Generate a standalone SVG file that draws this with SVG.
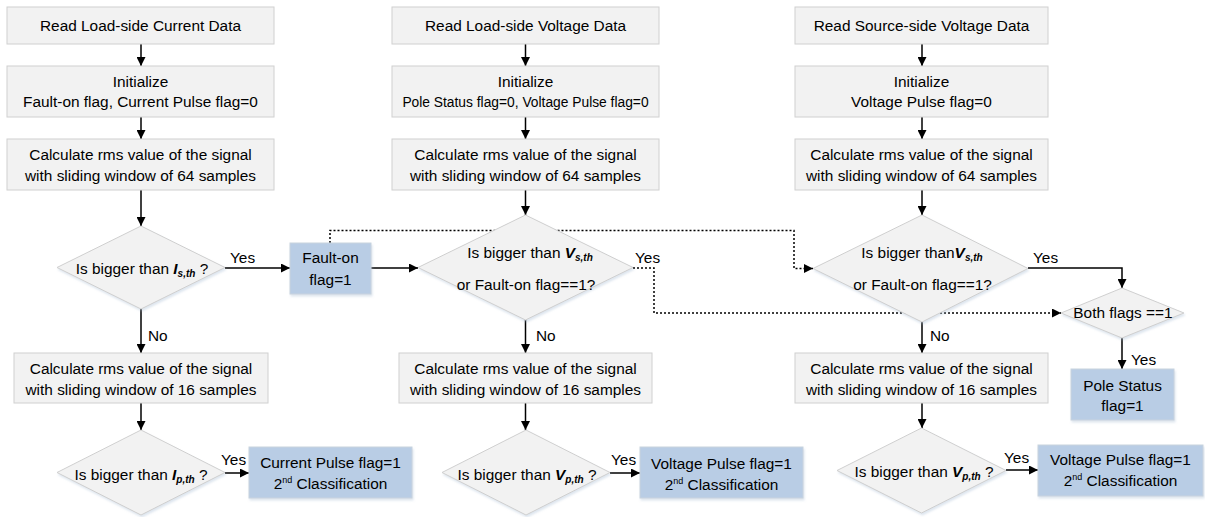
<svg xmlns="http://www.w3.org/2000/svg" width="1205" height="517" viewBox="0 0 1205 517">
<style>
text{font-family:"Liberation Sans",Arial,sans-serif;font-size:15.4px;fill:#000;}
.c{text-anchor:middle;}
.box{fill:#f2f2f2;stroke:#d0d0d0;stroke-width:1;}
.blue{fill:#b9cde5;stroke:#c9d3de;stroke-width:1;}
.dia{fill:#f2f2f2;stroke:#cfcfcf;stroke-width:1;}
.ln{fill:none;stroke:#000;stroke-width:1.5;}
.dot{fill:none;stroke:#000;stroke-width:1.5;stroke-dasharray:2 2;}
.v{font-weight:bold;font-style:italic;}
.sub{font-weight:bold;font-style:italic;font-size:10px;}
.sup{font-size:9px;}
.sm{font-size:13.8px;}
</style>
<defs>
<marker id="ah" viewBox="0 0 10 10" refX="10" refY="5" markerWidth="9" markerHeight="9" markerUnits="userSpaceOnUse" orient="auto">
<path d="M0,0 L10,5 L0,10 z" fill="#000"/>
</marker>
<filter id="sh" x="-10%" y="-10%" width="125%" height="130%">
<feDropShadow dx="1" dy="2" stdDeviation="1.2" flood-color="#9fb6d0" flood-opacity="0.35"/>
</filter>
</defs>

<g id="connectors">
<path class="ln" d="M141,44 V66" marker-end="url(#ah)"/>
<path class="ln" d="M141,117 V139" marker-end="url(#ah)"/>
<path class="ln" d="M141,190 V226" marker-end="url(#ah)"/>
<path class="ln" d="M225,268 H290" marker-end="url(#ah)"/>
<path class="ln" d="M141,309 V353" marker-end="url(#ah)"/>
<path class="ln" d="M141,403 V430" marker-end="url(#ah)"/>
<path class="ln" d="M225,473 H249" marker-end="url(#ah)"/>
<path class="ln" d="M525.5,44 V66" marker-end="url(#ah)"/>
<path class="ln" d="M525.5,117 V139" marker-end="url(#ah)"/>
<path class="ln" d="M525.5,190 V215" marker-end="url(#ah)"/>
<path class="ln" d="M371,268 H418" marker-end="url(#ah)"/>
<path class="ln" d="M525.5,320 V353" marker-end="url(#ah)"/>
<path class="ln" d="M525.5,403 V430" marker-end="url(#ah)"/>
<path class="ln" d="M610,473 H640" marker-end="url(#ah)"/>
<path class="ln" d="M922,44 V66" marker-end="url(#ah)"/>
<path class="ln" d="M922,117 V139" marker-end="url(#ah)"/>
<path class="ln" d="M922,190 V215" marker-end="url(#ah)"/>
<path class="ln" d="M1028,268 H1122 V288" marker-end="url(#ah)"/>
<path class="ln" d="M1122,338 V369" marker-end="url(#ah)"/>
<path class="ln" d="M922,322 V353" marker-end="url(#ah)"/>
<path class="ln" d="M922,403 V428" marker-end="url(#ah)"/>
<path class="ln" d="M1006,470 H1038" marker-end="url(#ah)"/>
<path class="dot" d="M330,243 V230.5 H794 V268.5 H813" marker-end="url(#ah)"/>
<path class="dot" d="M633,268 H654 V313 H1061" marker-end="url(#ah)"/>
<text x="230" y="263">Yes</text>
<text x="635" y="263">Yes</text>
<text x="1033" y="263">Yes</text>
<text x="1131" y="365">Yes</text>
<text x="148" y="341">No</text>
<text x="536" y="341">No</text>
<text x="930" y="341">No</text>
<text x="221" y="465">Yes</text>
<text x="611" y="465">Yes</text>
<text x="1004" y="463">Yes</text>
</g>

<g id="n_read_current">
<rect class="box" x="7" y="7" width="267" height="37"/>
<text class="c" x="140.5" y="31">Read Load-side Current Data</text>
</g>
<g id="n_init_current">
<rect class="box" x="7" y="66" width="267" height="51"/>
<text class="c" x="140.5" y="87">Initialize</text>
<text class="c" x="140.5" y="107">Fault-on flag, Current Pulse flag=0</text>
</g>
<g id="n_rms64_current">
<rect class="box" x="7" y="139" width="267" height="51"/>
<text class="c" x="140.5" y="160">Calculate rms value of the signal</text>
<text class="c" x="140.5" y="181">with sliding window of 64 samples</text>
</g>
<g id="n_dec_is">
<polygon class="dia" filter="url(#sh)" points="141,226 225,267.5 141,309 57,267.5"/>
<text class="c" x="142" y="274">Is bigger than <tspan class="v">I</tspan><tspan class="sub" dy="3">s,th</tspan><tspan dy="-3"> ?</tspan></text>
</g>
<g id="n_faulton">
<rect class="blue" filter="url(#sh)" x="290" y="243" width="81" height="51"/>
<text class="c" x="330.5" y="263">Fault-on</text>
<text class="c" x="330.5" y="285">flag=1</text>
</g>
<g id="n_rms16_current">
<rect class="box" x="14" y="353" width="254" height="50"/>
<text class="c" x="141" y="374">Calculate rms value of the signal</text>
<text class="c" x="141" y="395">with sliding window of 16 samples</text>
</g>
<g id="n_dec_ip">
<polygon class="dia" filter="url(#sh)" points="141,430 225,472.5 141,515 57,472.5"/>
<text class="c" x="141" y="480">Is bigger than <tspan class="v">I</tspan><tspan class="sub" dy="3">p,th</tspan><tspan dy="-3"> ?</tspan></text>
</g>
<g id="n_current_pulse">
<rect class="blue" filter="url(#sh)" x="249" y="447" width="163" height="51"/>
<text class="c" x="330.5" y="468">Current Pulse flag=1</text>
<text class="c" x="330.5" y="489">2<tspan class="sup" dy="-6">nd</tspan><tspan dy="6"> Classification</tspan></text>
</g>

<g id="n_read_loadv">
<rect class="box" x="392" y="7" width="267" height="37"/>
<text class="c" x="525.5" y="31">Read Load-side Voltage Data</text>
</g>
<g id="n_init_loadv">
<rect class="box" x="392" y="66" width="267" height="51"/>
<text class="c" x="525.5" y="87">Initialize</text>
<text class="c sm" x="525.5" y="107">Pole Status flag=0, Voltage Pulse flag=0</text>
</g>
<g id="n_rms64_loadv">
<rect class="box" x="392" y="139" width="267" height="51"/>
<text class="c" x="525.5" y="160">Calculate rms value of the signal</text>
<text class="c" x="525.5" y="181">with sliding window of 64 samples</text>
</g>
<g id="n_dec_vs_load">
<polygon class="dia" filter="url(#sh)" points="525.5,215 633,267.5 525.5,320 418,267.5"/>
<text class="c" x="530" y="258">Is bigger than <tspan class="v">V</tspan><tspan class="sub" dy="3">s,th</tspan></text>
<text class="c" x="526" y="290">or Fault-on flag==1?</text>
</g>
<g id="n_rms16_loadv">
<rect class="box" x="399" y="353" width="253" height="50"/>
<text class="c" x="525.5" y="374">Calculate rms value of the signal</text>
<text class="c" x="525.5" y="395">with sliding window of 16 samples</text>
</g>
<g id="n_dec_vp_load">
<polygon class="dia" filter="url(#sh)" points="526,430 610,472.5 526,515 442,472.5"/>
<text class="c" x="527" y="480">Is bigger than <tspan class="v">V</tspan><tspan class="sub" dy="3">p,th</tspan><tspan dy="-3"> ?</tspan></text>
</g>
<g id="n_voltage_pulse_load">
<rect class="blue" filter="url(#sh)" x="640" y="447" width="163" height="51"/>
<text class="c" x="721.5" y="469">Voltage Pulse flag=1</text>
<text class="c" x="721.5" y="490">2<tspan class="sup" dy="-6">nd</tspan><tspan dy="6"> Classification</tspan></text>
</g>

<g id="n_read_sourcev">
<rect class="box" x="795" y="7" width="253" height="37"/>
<text class="c" x="921.5" y="31">Read Source-side Voltage Data</text>
</g>
<g id="n_init_sourcev">
<rect class="box" x="795" y="66" width="253" height="51"/>
<text class="c" x="921.5" y="87">Initialize</text>
<text class="c" x="921.5" y="107">Voltage Pulse flag=0</text>
</g>
<g id="n_rms64_sourcev">
<rect class="box" x="795" y="139" width="253" height="51"/>
<text class="c" x="921.5" y="160">Calculate rms value of the signal</text>
<text class="c" x="921.5" y="181">with sliding window of 64 samples</text>
</g>
<g id="n_dec_vs_source">
<polygon class="dia" filter="url(#sh)" points="922,215 1028,268.5 922,322 813,268.5"/>
<text class="c" x="922" y="258">Is bigger than<tspan class="v">V</tspan><tspan class="sub" dy="3">s,th</tspan></text>
<text class="c" x="922.5" y="290">or Fault-on flag==1?</text>
</g>
<g id="n_both_flags">
<polygon class="dia" filter="url(#sh)" points="1122,288 1184,313 1122,338 1061,313"/>
<text class="c" x="1123" y="318">Both flags ==1</text>
</g>
<g id="n_pole_status">
<rect class="blue" filter="url(#sh)" x="1071" y="369" width="103" height="51"/>
<text class="c" x="1122.5" y="391">Pole Status</text>
<text class="c" x="1122.5" y="411">flag=1</text>
</g>
<g id="n_rms16_sourcev">
<rect class="box" x="795" y="353" width="253" height="50"/>
<text class="c" x="921.5" y="374">Calculate rms value of the signal</text>
<text class="c" x="921.5" y="395">with sliding window of 16 samples</text>
</g>
<g id="n_dec_vp_source">
<polygon class="dia" filter="url(#sh)" points="921.5,428 1006,470.5 921.5,513 837,470.5"/>
<text class="c" x="924" y="477">Is bigger than  <tspan class="v">V</tspan><tspan class="sub" dy="3">p,th</tspan><tspan dy="-3"> ?</tspan></text>
</g>
<g id="n_voltage_pulse_source">
<rect class="blue" filter="url(#sh)" x="1038" y="445" width="165" height="51"/>
<text class="c" x="1120.5" y="465">Voltage Pulse flag=1</text>
<text class="c" x="1120.5" y="486">2<tspan class="sup" dy="-6">nd</tspan><tspan dy="6"> Classification</tspan></text>
</g>
</svg>
